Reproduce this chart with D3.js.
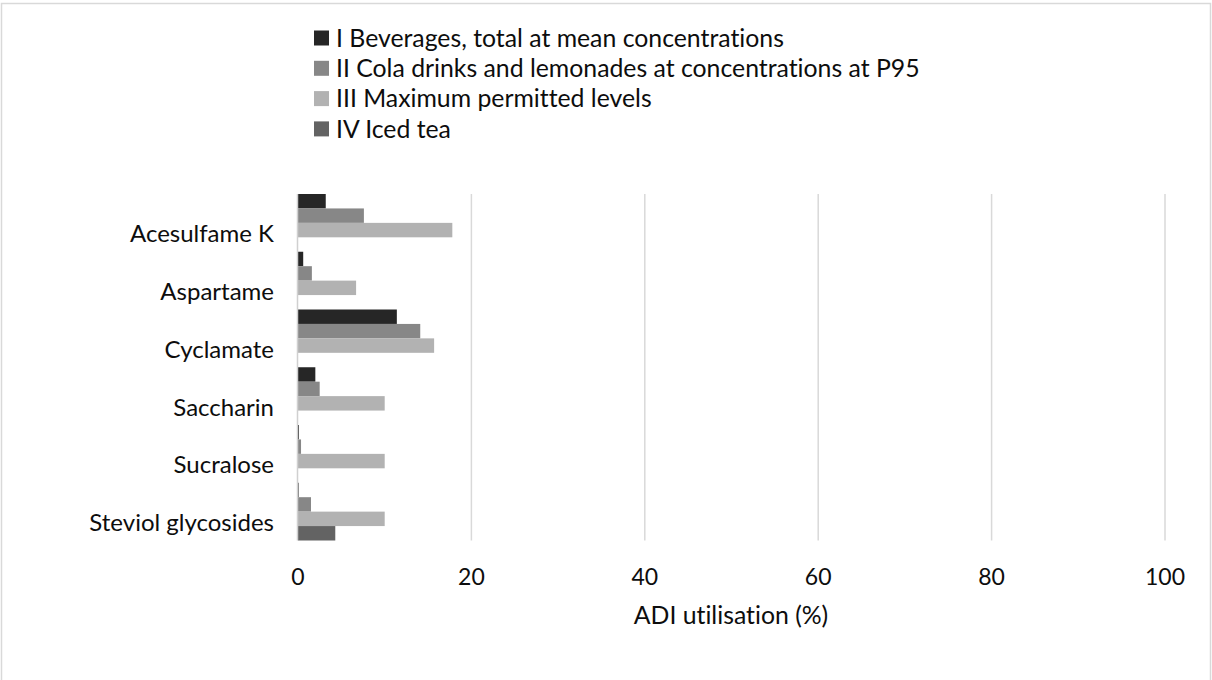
<!DOCTYPE html>
<html>
<head>
<meta charset="utf-8">
<script src="https://cdn.jsdelivr.net/npm/d3@7"></script>
<style>
  html, body { margin: 0; padding: 0; background: #fff; }
  svg { display: block; font-family: Lato, "Open Sans", sans-serif; font-variant-ligatures: none; }
</style>
</head>
<body>
<div id="chart"></div>
<script>
// categories (top to bottom)
const categories = ["Acesulfame K", "Aspartame", "Cyclamate", "Saccharin", "Sucralose", "Steviol glycosides"];
// series values, ADI utilisation in %
const beverages = [3.2, 0.6, 11.4, 2.0, 0.1, 0.05];
const colaP95 = [7.6, 1.6, 14.1, 2.5, 0.35, 1.5];
const maxLevels = [17.8, 6.7, 15.7, 10.0, 10.0, 10.0];
const icedTea = [0, 0, 0, 0, 0, 4.3];
const seriesNames = [
    "I Beverages, total at mean concentrations",
    "II Cola drinks and lemonades at concentrations at P95",
    "III Maximum permitted levels",
    "IV Iced tea"
];
const xTicks = [0, 20, 40, 60, 80, 100];
const xTitle = "ADI utilisation (%)";

const seriesValues = [beverages, colaP95, maxLevels, icedTea];
const colors = ["#262626", "#878787", "#b2b2b2", "#636363"];

const width = 1212, height = 680;
const textColor = "#0d0d0d";

const svg = d3.select("#chart").append("svg")
    .attr("width", width)
    .attr("height", height);

// chart border (bottom edge runs off the picture)
svg.append("rect")
    .attr("x", 1.5).attr("y", 3.5)
    .attr("width", 1209).attr("height", 700)
    .attr("fill", "#fff")
    .attr("stroke", "#d9d9d9")
    .attr("stroke-width", 1.5);

const x = d3.scaleLinear().domain([0, 100]).range([297.5, 1164.5]);
const y = d3.scaleBand().domain(categories).range([194, 540.5]).paddingInner(0);
const ySub = d3.scaleBand().domain(d3.range(seriesNames.length)).range([0, y.bandwidth()]);

// gridlines
const grid = svg.append("g")
    .attr("transform", `translate(0,${y.range()[0]})`)
    .call(d3.axisBottom(x).tickValues(xTicks.slice(1)).tickSize(y.range()[1] - y.range()[0]).tickFormat(""));
grid.select(".domain").remove();
grid.selectAll("line").attr("stroke", "#d9d9d9").attr("stroke-width", 1.5);

// bars
const rows = [];
categories.forEach((c, i) => {
    seriesValues.forEach((vals, s) => rows.push({ cat: c, s, v: vals[i] }));
});
svg.append("g").selectAll("rect")
    .data(rows.filter(d => d.v > 0))
    .join("rect")
    .attr("x", x(0) + 0.5)
    .attr("y", d => y(d.cat) + ySub(d.s))
    .attr("width", d => Math.max(0.6, x(d.v) - x(0)))
    .attr("height", ySub.bandwidth())
    .attr("fill", d => colors[d.s]);

// vertical category axis line
svg.append("line")
    .attr("x1", x(0)).attr("x2", x(0))
    .attr("y1", y.range()[0]).attr("y2", y.range()[1])
    .attr("stroke", "#d0d0d0")
    .attr("stroke-width", 1.5);

// category labels
svg.append("g").selectAll("text")
    .data(categories)
    .join("text")
    .attr("x", 274)
    .attr("y", d => y(d) + y.bandwidth() / 2 + 11)
    .attr("dy", "0.35em")
    .attr("text-anchor", "end")
    .attr("font-size", 24)
    .attr("fill", textColor)
    .text(d => d);

// x axis tick labels
const xAxis = svg.append("g")
    .attr("transform", `translate(0,${577})`)
    .call(d3.axisBottom(x).tickValues(xTicks).tickSize(0).tickPadding(0));
xAxis.select(".domain").remove();
xAxis.selectAll("text")
    .attr("dy", "0.35em")
    .attr("font-size", 23)
    .attr("font-family", "Lato, 'Open Sans', sans-serif")
    .attr("fill", textColor);

// axis title
svg.append("text")
    .attr("x", (x.range()[0] + x.range()[1]) / 2)
    .attr("y", 615)
    .attr("dy", "0.35em")
    .attr("text-anchor", "middle")
    .attr("font-size", 24.8)
    .attr("fill", textColor)
    .text(xTitle);

// legend
const legend = svg.append("g").attr("transform", "translate(314,38)");
const item = legend.selectAll("g")
    .data(seriesNames)
    .join("g")
    .attr("transform", (d, i) => `translate(0,${i * 30.3})`);
item.append("rect")
    .attr("x", 0).attr("y", -7.5)
    .attr("width", 15).attr("height", 15)
    .attr("fill", (d, i) => colors[i]);
item.append("text")
    .attr("x", 22)
    .attr("y", 0)
    .attr("dy", "0.35em")
    .attr("font-size", 24.8)
    .attr("fill", textColor)
    .text(d => d);
</script>
</body>
</html>
